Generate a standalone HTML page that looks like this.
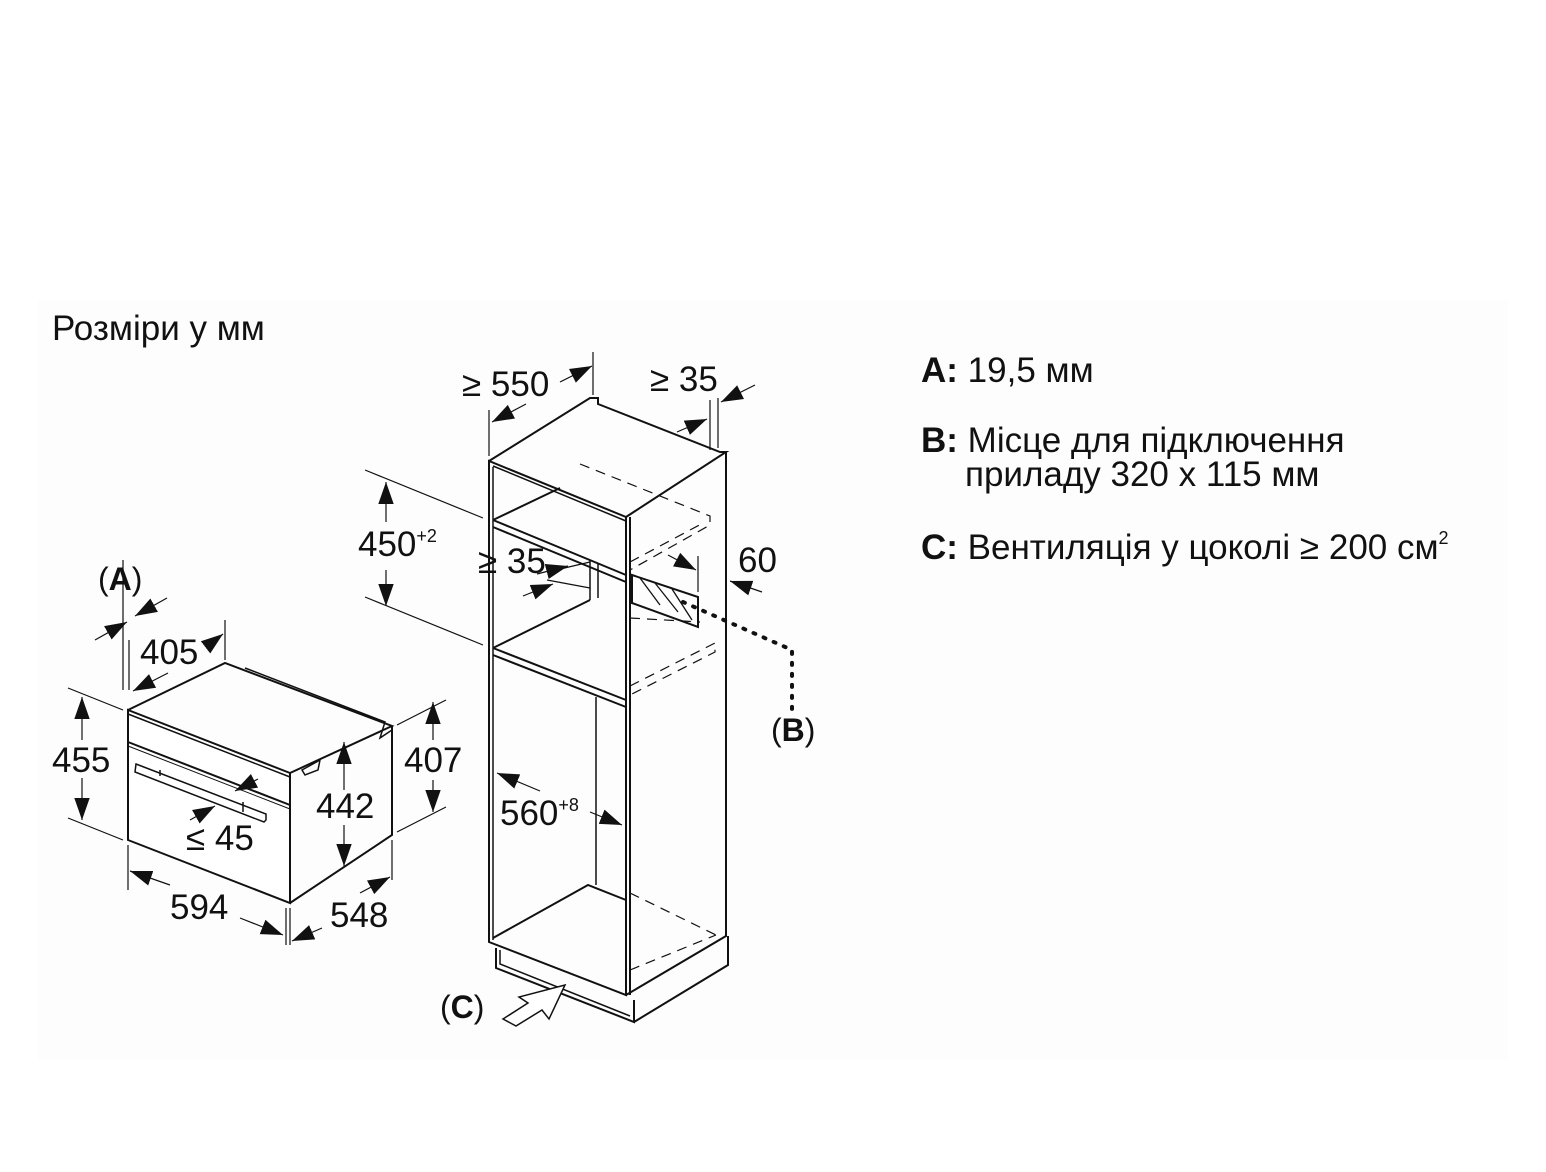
<!DOCTYPE html>
<html><head><meta charset="utf-8"><style>
html,body{margin:0;padding:0;background:#fff}
svg{display:block}
text{font-family:"Liberation Sans","DejaVu Sans",sans-serif;fill:#111}
</style></head><body>
<svg width="1546" height="1172" viewBox="0 0 1546 1172" xmlns="http://www.w3.org/2000/svg">
<defs>
<marker id="ar" viewBox="0 0 10 10" refX="10" refY="5" markerWidth="22" markerHeight="22" markerUnits="userSpaceOnUse" orient="auto"><path d="M0,1.5 L10,5 L0,8.5z" fill="#111"/></marker>
</defs>
<rect x="38" y="300" width="1470" height="760" fill="#fdfdfd"/>
<text x="52" y="340" font-size="35">Розміри у мм</text>
<g font-size="35">
<text x="921" y="382"><tspan font-weight="bold">A:</tspan> 19,5 мм</text>
<text x="921" y="452"><tspan font-weight="bold">B:</tspan> Місце для підключення</text>
<text x="965" y="486">приладу 320 x 115 мм</text>
<text x="921" y="559"><tspan font-weight="bold">C:</tspan> Вентиляція у цоколі ≥ 200 см<tspan font-size="18" dy="-15">2</tspan></text>
</g>

<g stroke="#111" fill="none" stroke-width="2">
<path d="M128,710 L290,773 L290,903 L128,840 Z" fill="#fff"/>
<path d="M128,710 L225,663 L392,726 L290,773"/>
<path d="M392,726 L392,835 L290,903"/>
<path d="M128,714 L290,777" stroke-width="1.5"/>
<path d="M128,742 L290,805" stroke-width="2"/>
<path d="M128,746 L290,809" stroke-width="1"/>
<path d="M245,668 L385,722 L380,738 L392,730" stroke-width="1.5"/>
<path d="M302,770 L320,760 L318,770 L305,775 Z" stroke-width="1.5"/>
<path d="M136,764 L266,814 L266,820 L264,822 L135,772 Z" stroke-width="1.5"/>
<path d="M160,770 L160,776 M243,802 L243,812" stroke-width="1.5"/>
<path d="M129,690 L129,640 M123,690 L123,560" stroke-width="1.2"/>
<path d="M95,640 L127,622" marker-end="url(#ar)" stroke-width="1.2"/>
<path d="M167,598 L135,616" marker-end="url(#ar)" stroke-width="1.2"/>
<path d="M225,620 L225,660" stroke-width="1.2"/>
<path d="M206,647 L223,634" marker-end="url(#ar)" stroke-width="1.2"/>
<path d="M168,673 L133,691" marker-end="url(#ar)" stroke-width="1.2"/>
<path d="M68,688 L123,710 M68,818 L123,840" stroke-width="1.2"/>
<path d="M82,740 L82,697" marker-end="url(#ar)" stroke-width="1.2"/>
<path d="M82,778 L82,820" marker-end="url(#ar)" stroke-width="1.2"/>
<path d="M397,725 L446,700 M397,832 L446,807" stroke-width="1.2"/>
<path d="M433,740 L433,702" marker-end="url(#ar)" stroke-width="1.2"/>
<path d="M433,780 L433,812" marker-end="url(#ar)" stroke-width="1.2"/>
<path d="M344,790 L344,742" marker-end="url(#ar)" stroke-width="1.2"/>
<path d="M344,825 L344,866" marker-end="url(#ar)" stroke-width="1.2"/>
<path d="M128,845 L128,890 M290,908 L290,945 M286,908 L286,945 M392,840 L392,880" stroke-width="1.2"/>
<path d="M170,885 L130,871" marker-end="url(#ar)" stroke-width="1.2"/>
<path d="M240,918 L283,935" marker-end="url(#ar)" stroke-width="1.2"/>
<path d="M322,928 L292,941" marker-end="url(#ar)" stroke-width="1.2"/>
<path d="M360,893 L390,877" marker-end="url(#ar)" stroke-width="1.2"/>
<path d="M258,779 L235,791" marker-end="url(#ar)" stroke-width="1.2"/>
<path d="M190,820 L215,806" marker-end="url(#ar)" stroke-width="1.2"/>

<path d="M489,461 L489,942 L626,995 L626,517 Z"/>
<path d="M493,467 L493,940" stroke-width="1.5"/>
<path d="M489,461 L590,398 L598,398 L598,404 L720,452 L726,452 L626,517"/>
<path d="M630,517 L630,995 M726,452 L726,936 L626,995" />
<path d="M493,466 L626,521" stroke-width="1.5"/>
<path d="M493,520 L626,575 M493,527 L626,582"/>
<path d="M493,520 L560,488"/>
<path d="M590,560 L590,600 M598,563 L598,598" stroke-width="1.5"/>
<path d="M493,648 L626,700 M493,655 L626,707"/>
<path d="M493,648 L590,600"/>
<path d="M596,697 L596,885" stroke-width="1.5"/>
<path d="M493,938 L588,885 L626,900"/>
<path d="M496,948 L496,968 L634,1022 L634,1000 M634,1022 L728,965 L728,936"/>
<path d="M500,950 L500,964 L630,1016" stroke-width="1.5"/>
<g stroke-dasharray="10,7" stroke-width="1.2">
<path d="M580,464 L710,516 L710,525 L630,570"/>
<path d="M630,562 L705,522"/>
<path d="M630,686 L715,643 L715,652 L630,695"/>
<path d="M630,618 L700,622" />
<path d="M630,893 L716,935 M630,970 L716,935"/>
</g>
<path d="M632,575 L698,597 L698,627 L632,603 Z" stroke-width="2"/>
<path d="M640,578 L660,605 M655,583 L678,612 M672,589 L692,620" stroke-width="1.3"/>
<path d="M683,602 L792,650 L792,712" stroke-dasharray="2,9" stroke-width="4" stroke-linecap="round"/>
<path d="M489,456 L489,410 M593,395 L593,352 M710,450 L710,400 M718,448 L718,398" stroke-width="1.2"/>
<path d="M526,404 L492,422" marker-end="url(#ar)" stroke-width="1.2"/>
<path d="M560,382 L592,366" marker-end="url(#ar)" stroke-width="1.2"/>
<path d="M677,432 L707,419" marker-end="url(#ar)" stroke-width="1.2"/>
<path d="M755,385 L721,402" marker-end="url(#ar)" stroke-width="1.2"/>
<path d="M365,470 L483,518 M365,597 L483,645" stroke-width="1.2"/>
<path d="M386,522 L386,482" marker-end="url(#ar)" stroke-width="1.2"/>
<path d="M386,570 L386,606" marker-end="url(#ar)" stroke-width="1.2"/>
<path d="M556,570 L590,562 M547,580 L590,588" stroke-width="1.2"/>
<path d="M537,574 L568,566" marker-end="url(#ar)" stroke-width="1.2"/>
<path d="M523,596 L553,584" marker-end="url(#ar)" stroke-width="1.2"/>
<path d="M698,556 L698,592" stroke-width="1.2"/>
<path d="M668,555 L696,570" marker-end="url(#ar)" stroke-width="1.2"/>
<path d="M762,592 L730,581" marker-end="url(#ar)" stroke-width="1.2"/>
<path d="M540,791 L497,773" marker-end="url(#ar)" stroke-width="1.2"/>
<path d="M590,812 L622,825" marker-end="url(#ar)" stroke-width="1.2"/>
<path d="M503,1019 L528,1003 L519,997 L565,985 L549,1019 L542,1010 L516,1026 Z" fill="#fff" stroke-width="1.5"/>
</g>

<g font-size="35">
<text x="98" y="590" font-size="32">(<tspan font-weight="bold">A</tspan>)</text>
<text x="140" y="664">405</text>
<text x="52" y="772">455</text>
<text x="404" y="772">407</text>
<text x="316" y="818">442</text>
<text x="186" y="850">≤ 45</text>
<text x="170" y="919">594</text>
<text x="330" y="927">548</text>
<text x="462" y="396">≥ 550</text>
<text x="650" y="391">≥ 35</text>
<text x="358" y="556">450<tspan font-size="18" dy="-14">+2</tspan></text>
<text x="478" y="573">≥ 35</text>
<text x="738" y="572">60</text>
<text x="771" y="741" font-size="32">(<tspan font-weight="bold">B</tspan>)</text>
<text x="500" y="825">560<tspan font-size="18" dy="-14">+8</tspan></text>
<text x="440" y="1018" font-size="32">(<tspan font-weight="bold">C</tspan>)</text>
</g>
</svg>
</body></html>
